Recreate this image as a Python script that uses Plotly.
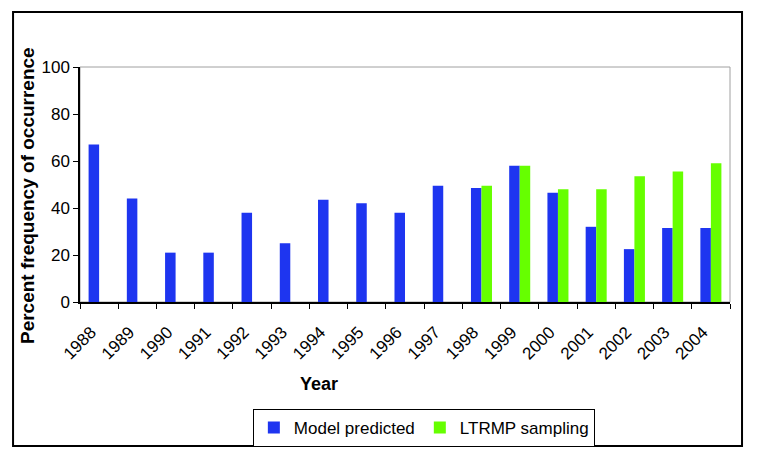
import plotly.graph_objects as go

years = ["1988", "1989", "1990", "1991", "1992", "1993", "1994", "1995", "1996",
         "1997", "1998", "1999", "2000", "2001", "2002", "2003", "2004"]
model_predicted = [67, 44, 21, 21, 38, 25, 43.5, 42, 38, 49.5, 48.5, 58, 46.5, 32, 22.5, 31.5, 31.5]
ltrmp_sampling = [None, None, None, None, None, None, None, None, None, None,
                  49.5, 58, 48, 48, 53.5, 55.5, 59]

fig = go.Figure()
fig.add_trace(go.Bar(x=years, y=model_predicted, name="Model predicted",
                     marker=dict(color="#1E35F0", line=dict(width=0))))
fig.add_trace(go.Bar(x=years, y=ltrmp_sampling, name="LTRMP sampling",
                     marker=dict(color="#66FF00", line=dict(width=0))))

font_family = "Liberation Sans, Arial, sans-serif"

# page body has an 8px margin, so the figure is 8px smaller and margins shifted
fig.update_layout(
    width=751, height=461,
    margin=dict(l=72, r=29, t=59, b=167),
    paper_bgcolor="white", plot_bgcolor="white",
    barmode="group", bargap=0.45, bargroupgap=0,
    font=dict(family=font_family, size=16, color="black"),
    showlegend=True,
    legend=dict(orientation="h", x=0.529, xanchor="center", y=-0.455, yanchor="top",
                bordercolor="black", borderwidth=1, bgcolor="white",
                font=dict(size=17, color="black"), traceorder="normal",
                itemwidth=30),
)
fig.update_xaxes(type="category", showline=True, linecolor="black", linewidth=1.5,
                 ticks="outside", ticklen=5, tickcolor="black", tickson="boundaries",
                 tickangle=-45, tickfont=dict(size=17), showgrid=False,
                 ticklabelstandoff=12, ticklabelshift=-8)
fig.update_yaxes(range=[0, 100], dtick=20, showline=True, linecolor="black", linewidth=1.5,
                 ticks="outside", ticklen=5, tickcolor="black", tickfont=dict(size=17),
                 showgrid=False, zeroline=False)

# plot area border (grey) and outer chart frame (black)
fig.add_shape(type="rect", xref="paper", yref="paper", x0=0, x1=1, y0=0, y1=1,
              line=dict(color="#A0A0A0", width=1), layer="below")
fig.add_shape(type="rect", xref="paper", yref="paper", x0=-0.103, x1=1.0185,
              y0=-0.613, y1=1.234, line=dict(color="black", width=2), layer="below")

fig.add_annotation(text="<b>Percent frequency of occurrence</b>", xref="paper", yref="paper",
                   x=-0.0815, y=0.451, textangle=-90, showarrow=False,
                   font=dict(size=19, color="black"), xanchor="center", yanchor="middle")
fig.add_annotation(text="<b>Year</b>", xref="paper", yref="paper",
                   x=0.367, y=-0.349, showarrow=False,
                   font=dict(size=18, color="black"), xanchor="center", yanchor="middle")

fig.write_html("out.html")
